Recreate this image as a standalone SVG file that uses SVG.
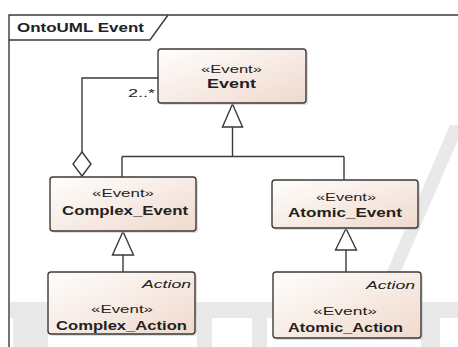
<svg xmlns="http://www.w3.org/2000/svg" width="458" height="347" viewBox="0 0 458 347">
<defs>
<linearGradient id="fill" x1="0" y1="0" x2="1" y2="1">
<stop offset="0" stop-color="#fffefd"/>
<stop offset="1" stop-color="#f0d9cd"/>
</linearGradient>
<style>
.box{fill:url(#fill);stroke:#3a3a3a;stroke-width:1.4}
.shadow{fill:#bdbdbd;opacity:0.5}
.ln{fill:none;stroke:#3a3a3a;stroke-width:1.4}
.head{fill:#ffffff;stroke:#3a3a3a;stroke-width:1.4}
.st{font-family:"Liberation Sans",Arial,sans-serif;font-size:11px;fill:#222}
.nm{font-family:"Liberation Sans",Arial,sans-serif;font-size:12.5px;font-weight:bold;fill:#222}
.it{font-family:"Liberation Sans",Arial,sans-serif;font-size:11.5px;font-style:italic;fill:#222}
.wm{fill:#e9e9e9}
</style>
</defs>
<rect x="0" y="0" width="458" height="347" fill="#ffffff"/>
<g id="watermark">
<rect class="wm" x="10" y="302" width="448" height="16"/>
<rect class="wm" x="13" y="318" width="35" height="29"/>
<rect class="wm" x="197" y="318" width="15" height="29"/>
<rect class="wm" x="252" y="318" width="15" height="29"/>
<rect class="wm" x="421" y="318" width="19" height="29"/>
<polygon class="wm" points="450,125 458,125 458,140 392,292 378,292"/>
</g>
<g id="frame">
<path class="ln" d="M9,347 V15 H458"/>
<path class="ln" d="M9,40 H150 L168,15"/>
<text class="nm" x="17" y="32" textLength="127" lengthAdjust="spacingAndGlyphs">OntoUML Event</text>
</g>
<g id="connectors">
<path class="ln" d="M232.5,127 V156.5 M122,156.5 H344 M122,156.5 V177 M344,156.5 V180"/>
<polygon class="head" points="232.5,104 242.5,127 222.5,127"/>
<path class="ln" d="M82,152 V78 H158"/>
<polygon class="head" points="82,152 91,164 82,176 73,164"/>
<text class="st" x="128" y="97" textLength="27" lengthAdjust="spacingAndGlyphs">2..*</text>
<path class="ln" d="M123,255 V272"/>
<polygon class="head" points="123,231.5 133.5,255 112.5,255"/>
<path class="ln" d="M346,250 V272"/>
<polygon class="head" points="346,228.5 356.5,250 335.5,250"/>
</g>
<g id="Event">
<rect class="shadow" x="160" y="51" width="148" height="54" rx="3"/>
<rect class="box" x="158" y="49" width="148" height="54" rx="3"/>
<text class="st" x="201" y="73" textLength="61" lengthAdjust="spacingAndGlyphs">«Event»</text>
<text class="nm" x="207" y="88" textLength="49" lengthAdjust="spacingAndGlyphs">Event</text>
</g>
<g id="Complex_Event">
<rect class="shadow" x="52" y="179" width="146" height="54" rx="3"/>
<rect class="box" x="50" y="177" width="146" height="54" rx="3"/>
<text class="st" x="92" y="197" textLength="62" lengthAdjust="spacingAndGlyphs">«Event»</text>
<text class="nm" x="62" y="215" textLength="126" lengthAdjust="spacingAndGlyphs">Complex_Event</text>
</g>
<g id="Atomic_Event">
<rect class="shadow" x="274" y="182" width="146" height="48" rx="3"/>
<rect class="box" x="272" y="180" width="146" height="48" rx="3"/>
<text class="st" x="316" y="201" textLength="60" lengthAdjust="spacingAndGlyphs">«Event»</text>
<text class="nm" x="288" y="217" textLength="114" lengthAdjust="spacingAndGlyphs">Atomic_Event</text>
</g>
<g id="Complex_Action">
<rect class="shadow" x="50" y="274" width="147" height="62" rx="3"/>
<rect class="box" x="48" y="272" width="147" height="62" rx="3"/>
<text class="it" x="142" y="288" textLength="49" lengthAdjust="spacingAndGlyphs">Action</text>
<text class="st" x="91" y="313" textLength="62" lengthAdjust="spacingAndGlyphs">«Event»</text>
<text class="nm" x="56" y="330" textLength="131" lengthAdjust="spacingAndGlyphs">Complex_Action</text>
</g>
<g id="Atomic_Action">
<rect class="shadow" x="275" y="274" width="148" height="66" rx="3"/>
<rect class="box" x="273" y="272" width="148" height="66" rx="3"/>
<text class="it" x="366" y="289" textLength="49" lengthAdjust="spacingAndGlyphs">Action</text>
<text class="st" x="313" y="315" textLength="64" lengthAdjust="spacingAndGlyphs">«Event»</text>
<text class="nm" x="288" y="332" textLength="115" lengthAdjust="spacingAndGlyphs">Atomic_Action</text>
</g>
</svg>
